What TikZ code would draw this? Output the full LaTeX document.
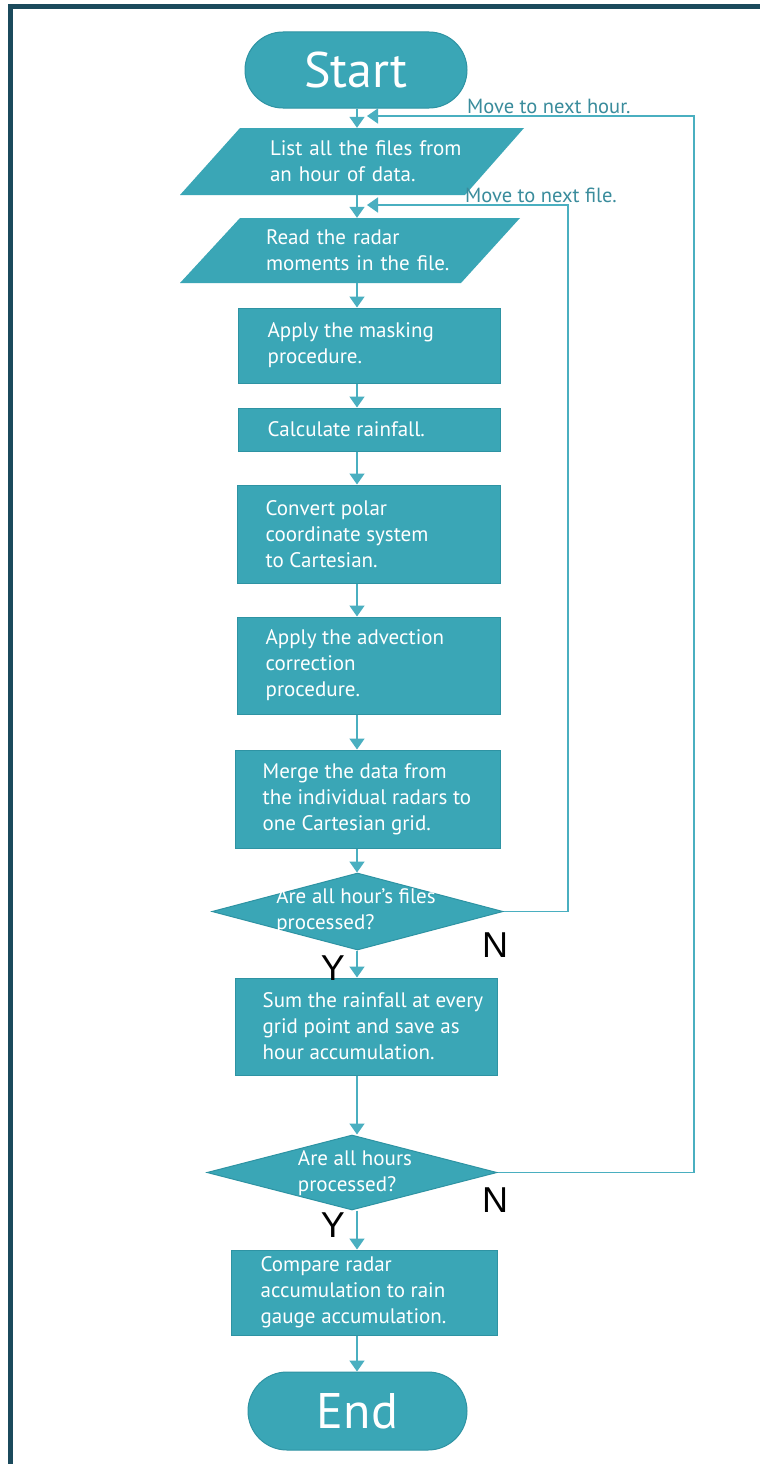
\documentclass[tikz,border=0pt]{standalone}
\usepackage{fontspec}
\setmainfont{PT Sans}
\newfontfamily\ynfont{Liberation Sans}
\usetikzlibrary{arrows.meta,shapes.geometric}
\definecolor{tealfill}{HTML}{3AA6B6}
\definecolor{tealedge}{HTML}{2E93A3}
\definecolor{tealline}{HTML}{4AAFC0}
\definecolor{framecol}{HTML}{1B4A5C}
\definecolor{labeltxt}{HTML}{3A8C9C}
\begin{document}
\begin{tikzpicture}[x=1pt,y=-1pt,
  boxnode/.style={fill=tealfill, draw=tealedge, line width=1pt, inner sep=0pt},
  bodytxt/.style={text=white, font=\fontsize{21}{26}\selectfont, align=left, inner sep=0pt},
  flow/.style={draw=tealline, line width=1.6pt, -{Triangle[width=15pt,length=11pt]}},
  loopline/.style={draw=tealline, line width=1.6pt, -{Triangle[width=15pt,length=11pt]}},
  looplabel/.style={text=labeltxt, font=\fontsize{20.5}{20}\selectfont, inner sep=0pt},
  yn/.style={font=\ynfont\fontsize{36}{36}\selectfont, text=black, inner sep=0pt}
]
\useasboundingbox (0,0) rectangle (760,1464);
\fill[white] (0,0) rectangle (760,1464);
\fill[framecol] (8,4) rectangle (760,9);
\fill[framecol] (8,4) rectangle (13,1464);

% Start
\node[boxnode, rounded corners=38pt, minimum width=222pt, minimum height=76pt,
      text=white, font=\fontsize{50}{50}\selectfont] (start) at (356,70) {Start};

% List parallelogram
\fill[tealfill] (240,128) -- (524,128) -- (465,195) -- (180,195) -- cycle;
\node[bodytxt, text width=230pt, minimum height=67pt] (list) at (385,161.5) {List all the files from\\an hour of data.};

% Read parallelogram
\fill[tealfill] (240,218) -- (520,218) -- (461,283) -- (180,283) -- cycle;
\node[bodytxt, text width=230pt, minimum height=65pt] (read) at (381,250.5) {Read the radar\\moments in the file.};

% Process boxes
\node[boxnode, minimum width=262pt, minimum height=75pt] (mask) at (369,345.5) {};
\node[bodytxt, anchor=west] (masktxt) at ([xshift=30pt]mask.west) {Apply the masking\\procedure.};

\node[boxnode, minimum width=262pt, minimum height=43pt] (calc) at (369,429.5) {};
\node[bodytxt, anchor=west] (calctxt) at ([xshift=30pt]calc.west) {Calculate rainfall.};

\node[boxnode, minimum width=263pt, minimum height=98pt] (conv) at (368.5,534) {};
\node[bodytxt, anchor=west] (convtxt) at ([xshift=29pt]conv.west) {Convert polar\\coordinate system\\to Cartesian.};

\node[boxnode, minimum width=263pt, minimum height=97pt] (adv) at (368.5,665.5) {};
\node[bodytxt, anchor=west] (advtxt) at ([xshift=29pt]adv.west) {Apply the advection\\correction\\procedure.};

\node[boxnode, minimum width=265pt, minimum height=98pt] (merge) at (367.5,799) {};
\node[bodytxt, anchor=west] (mergetxt) at ([xshift=28pt]merge.west) {Merge the data from\\the individual radars to\\one Cartesian grid.};

% Decision 1
\node[boxnode, shape=diamond, minimum width=291pt, minimum height=77pt] (d1) at (357.5,911.5) {};
\node[bodytxt] (d1txt) at (356,911) {Are all hour's files\\processed?};

\node[boxnode, minimum width=262pt, minimum height=97pt] (sum) at (366,1026.5) {};
\node[bodytxt, anchor=west] (sumtxt) at ([xshift=28pt]sum.west) {Sum the rainfall at every\\grid point and save as\\hour accumulation.};

% Decision 2
\node[boxnode, shape=diamond, minimum width=290pt, minimum height=75pt] (d2) at (352,1172.5) {};
\node[bodytxt] (d2txt) at (355,1173) {Are all hours\\processed?};

\node[boxnode, minimum width=266pt, minimum height=85pt] (comp) at (364,1292.5) {};
\node[bodytxt, anchor=west] (comptxt) at ([xshift=30pt]comp.west) {Compare radar\\accumulation to rain\\gauge accumulation.};

% End
\node[boxnode, rounded corners=39pt, minimum width=219pt, minimum height=78pt,
      text=white, font=\fontsize{50}{50}\selectfont] (end) at (357.5,1411) {End};

% Main flow arrows
\coordinate (ax) at (357,0);
\draw[flow] (ax |- start.south) -- (ax |- list.north);
\draw[flow] (ax |- list.south) -- (ax |- read.north);
\draw[flow] (ax |- read.south) -- (ax |- mask.north);
\draw[flow] (ax |- mask.south) -- (ax |- calc.north);
\draw[flow] (ax |- calc.south) -- (ax |- conv.north);
\draw[flow] (ax |- conv.south) -- (ax |- adv.north);
\draw[flow] (ax |- adv.south) -- (ax |- merge.north);
\draw[flow] (ax |- merge.south) -- (ax |- d1.north);
\draw[flow] (ax |- d1.south) -- (ax |- sum.north);
\draw[flow] (ax |- sum.south) -- (ax |- d2.north);
\draw[flow] (ax |- d2.south) -- (ax |- comp.north);
\draw[flow] (ax |- comp.south) -- (ax |- end.north);

% Loops
\coordinate (fileturn) at (568,205);
\coordinate (fileend) at (367,205);
\draw[loopline] (d1.east) -| (fileturn) -- (fileend);
\coordinate (hourturn) at (694,116);
\coordinate (hourend) at (367,116);
\draw[loopline] (d2.east) -| (hourturn) -- (hourend);

\node[looplabel, anchor=base west] (hourlbl) at (467,113) {Move to next hour.};
\node[looplabel, anchor=base west] (filelbl) at (465,202) {Move to next file.};

% Y / N labels
\node[yn] (n1) at (495,945) {N};
\node[yn] (y1) at (333,968) {Y};
\node[yn] (n2) at (495,1200) {N};
\node[yn] (y2) at (333,1225) {Y};
\end{tikzpicture}
\end{document}
